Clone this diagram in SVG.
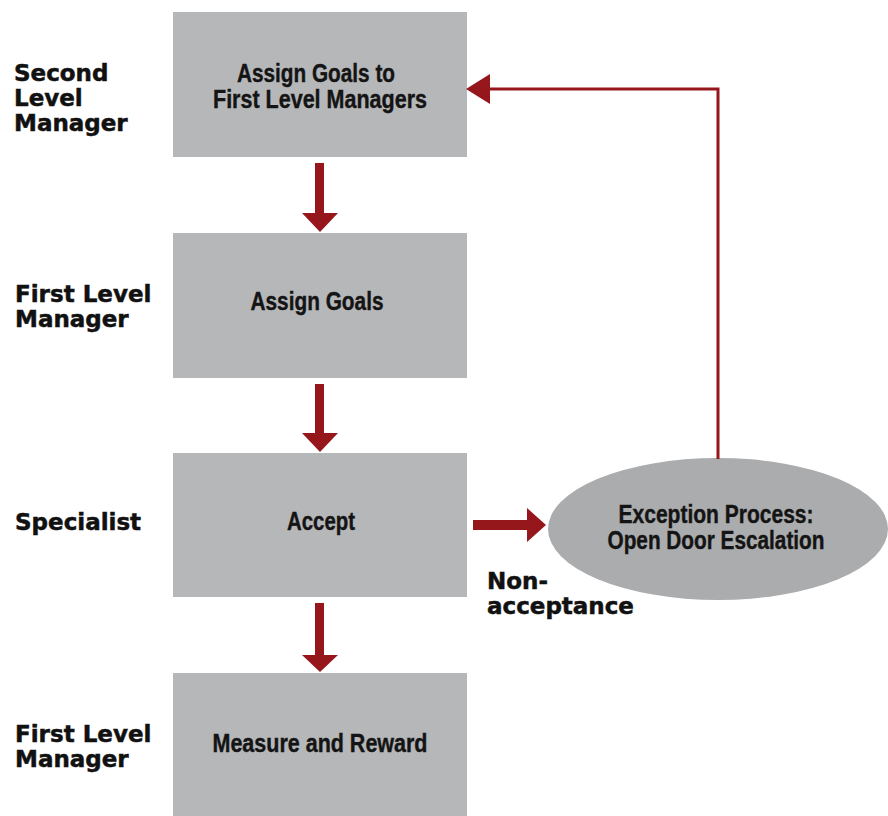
<svg xmlns="http://www.w3.org/2000/svg" width="888" height="816" viewBox="0 0 888 816">
<style>
.box{fill:#b6b7b9}
.ell{fill:#abacae}
.bt{font-family:"Liberation Sans",Arial,sans-serif;font-weight:bold;font-size:25px;fill:#141414;stroke:#141414;stroke-width:0.4;text-anchor:middle}
.lb{font-family:"DejaVu Sans",Verdana,sans-serif;font-weight:bold;font-size:23px;fill:#111;stroke:#111;stroke-width:0.5}
.red{fill:#95171c}
.line{fill:none;stroke:#95171c;stroke-width:3}
</style>
<rect width="888" height="816" fill="#ffffff"/>
<g id="label-second">
<text class="lb" x="14" y="81">Second</text>
<text class="lb" x="14" y="106">Level</text>
<text class="lb" x="14" y="131">Manager</text>
</g>
<g id="label-first1">
<text class="lb" x="15" y="302">First Level</text>
<text class="lb" x="15" y="327">Manager</text>
</g>
<g id="label-specialist">
<text class="lb" x="15" y="530">Specialist</text>
</g>
<g id="label-first2">
<text class="lb" x="15" y="742">First Level</text>
<text class="lb" x="15" y="767">Manager</text>
</g>
<g id="node-assign-first">
<rect class="box" x="173" y="12" width="294" height="145"/>
<text class="bt" x="316" y="82" textLength="158" lengthAdjust="spacingAndGlyphs">Assign Goals to</text>
<text class="bt" x="320" y="108" textLength="214" lengthAdjust="spacingAndGlyphs">First Level Managers</text>
</g>
<g id="node-assign">
<rect class="box" x="173" y="233" width="294" height="145"/>
<text class="bt" x="317" y="310" textLength="133" lengthAdjust="spacingAndGlyphs">Assign Goals</text>
</g>
<g id="node-accept">
<rect class="box" x="173" y="453" width="294" height="144"/>
<text class="bt" x="321" y="530" textLength="68" lengthAdjust="spacingAndGlyphs">Accept</text>
</g>
<g id="node-measure">
<rect class="box" x="173" y="673" width="294" height="143"/>
<text class="bt" x="320" y="752" textLength="215" lengthAdjust="spacingAndGlyphs">Measure and Reward</text>
</g>
<g id="node-exception">
<ellipse class="ell" cx="718" cy="529" rx="170" ry="71"/>
<text class="bt" x="716" y="523" textLength="195" lengthAdjust="spacingAndGlyphs">Exception Process:</text>
<text class="bt" x="716" y="549" textLength="217" lengthAdjust="spacingAndGlyphs">Open Door Escalation</text>
</g>
<g id="connectors">
<rect class="red" x="315" y="163" width="9" height="51"/>
<polygon class="red" points="302,213 338,213 320,232"/>
<rect class="red" x="315" y="384" width="9" height="50"/>
<polygon class="red" points="302,433 338,433 320,452"/>
<rect class="red" x="315" y="603" width="9" height="53"/>
<polygon class="red" points="302,655 338,655 320,672"/>
<rect class="red" x="473" y="520" width="55" height="10"/>
<polygon class="red" points="527,508 527,542 546,525"/>
<polyline class="line" points="718,459 718,89 488,89"/>
<polygon class="red" points="466,89 490,74 490,104"/>
<text class="lb" x="487" y="589">Non-</text>
<text class="lb" x="487" y="614">acceptance</text>
</g>
</svg>
